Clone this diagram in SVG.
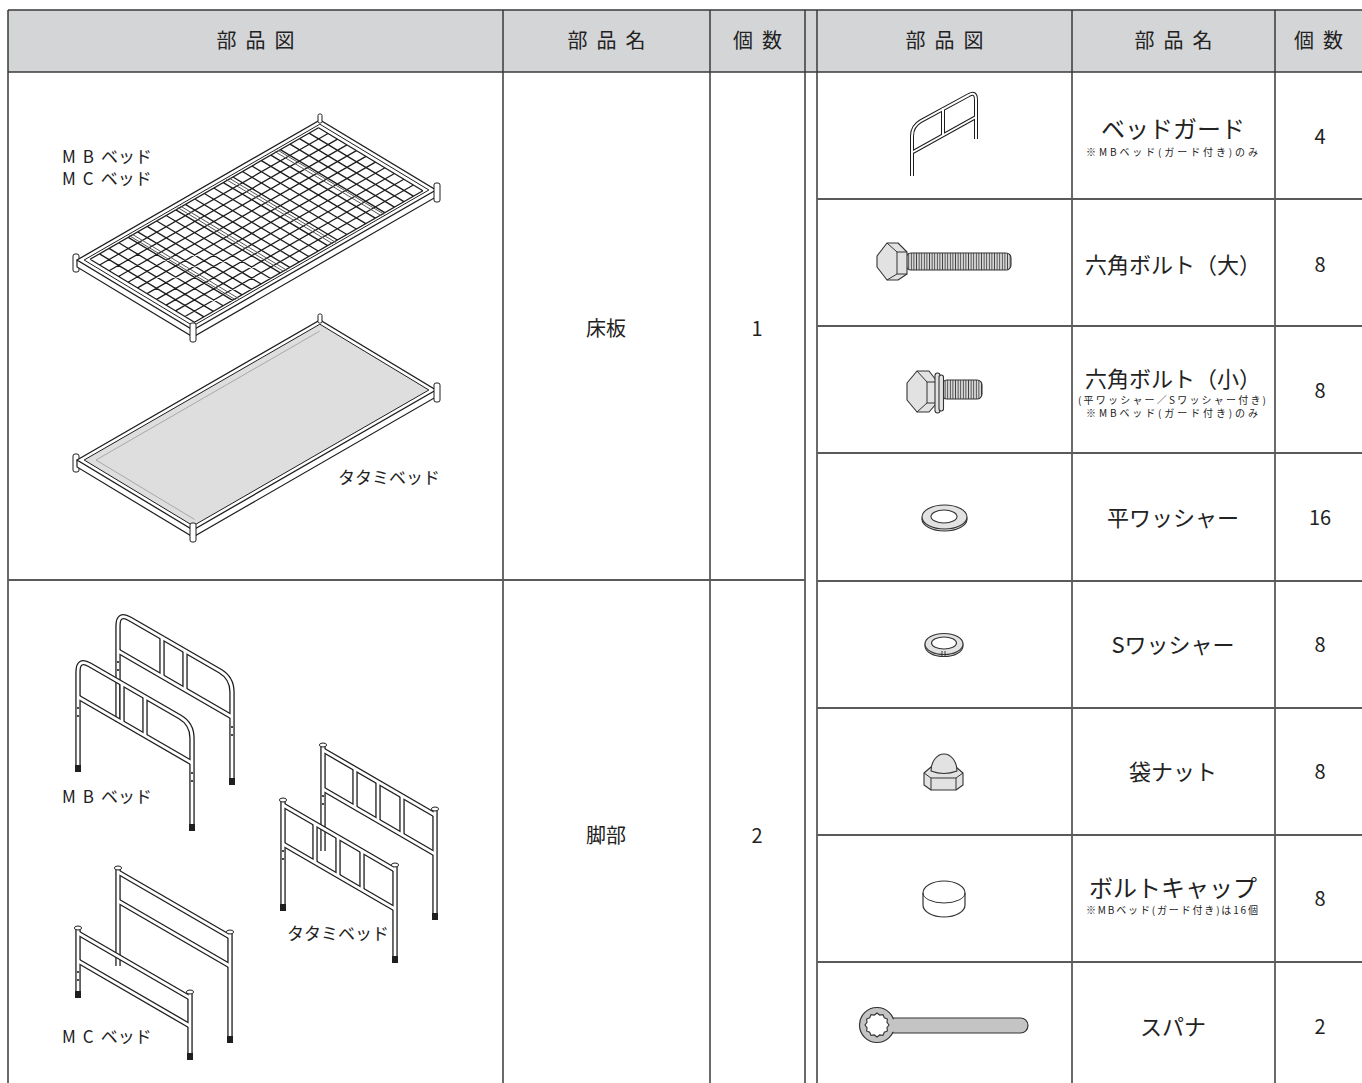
<svg xmlns="http://www.w3.org/2000/svg" xmlns:xlink="http://www.w3.org/1999/xlink" width="1362" height="1083" viewBox="0 0 1362 1083">
<style>
text{font-family:"Noto Sans CJK JP","Noto Sans",sans-serif;fill:#222}
.hd{font-size:20px;letter-spacing:9px;text-anchor:middle}
.nm{font-size:22px;text-anchor:middle}
.nm24{font-size:24px;text-anchor:middle}
.ct{font-size:20px;text-anchor:middle}
.nt{font-size:10px}
.lb{font-size:17px}
.ln{stroke:#3a3a3a;stroke-width:1.5;fill:none}
.rw{stroke:#5a5a5a;stroke-width:2;fill:none}
.o{fill:none;stroke:#1e1e1e;stroke-width:5.4;stroke-linecap:butt;stroke-linejoin:round}
.i{fill:none;stroke:#fff;stroke-width:2.8;stroke-linecap:butt;stroke-linejoin:round}
.go{fill:none;stroke:#1e1e1e;stroke-width:4;stroke-linejoin:round}
.gi{fill:none;stroke:#fff;stroke-width:2;stroke-linejoin:round}
.ft{fill:#1e1e1e}
.cap{fill:#fff;stroke:#1e1e1e;stroke-width:1}
.pt{fill:#e2e2e2;stroke:#333;stroke-width:1.1;stroke-linejoin:round}
.pl{fill:none;stroke:#333;stroke-width:1}
.ug{stroke:#1e1e1e;vector-effect:non-scaling-stroke}
.hole{fill:#1e1e1e}
</style>
<defs>
<pattern id="thread" patternUnits="userSpaceOnUse" width="2.6" height="30">
<rect width="2.6" height="30" fill="#d6d6d6"/>
<line x1="1.3" y1="0" x2="1.3" y2="30" stroke="#444" stroke-width="0.9"/>
</pattern>
<g id="mbFrame">
<path d="M118,722 V626 Q118,612 130,619 L220,671 Q232,678 232,692 V780"/>
<path d="M118,651 L232,717"/>
<path d="M162,638 V676"/>
<path d="M185,651 V689"/>
</g>
<g id="tbBack">
<path d="M323,851 V746"/>
<path d="M435,915 V810"/>
<path d="M323,750 L435,815"/>
<path d="M323,789 L435,854"/>
<path d="M355,769 V808"/>
<path d="M378,782 V821"/>
<path d="M402,796 V835"/>
</g>
<g id="tbFront">
<path d="M283,906 V801"/>
<path d="M395,958 V866"/>
<path d="M283,805 L395,870"/>
<path d="M283,844 L395,909"/>
<path d="M315,824 V863"/>
<path d="M338,837 V876"/>
<path d="M362,851 V890"/>
</g>
<g id="mcBack">
<path d="M118,966 V869"/>
<path d="M230,1038 V933"/>
<path d="M118,872 L230,937"/>
<path d="M118,901 L230,966"/>
</g>
<g id="mcFront">
<path d="M78,993 V929"/>
<path d="M190,1055 V993"/>
<path d="M78,933 L190,998"/>
<path d="M78,961 L190,1026"/>
</g>
<g id="guard">
<path d="M912,176 V136 Q912,126 921,121 L969,95 Q976,91 976,100 V139"/>
<path d="M913,152 L976,117"/>
<path d="M943,108 V136"/>
</g>
</defs>

<g id="table">
<rect x="8" y="10" width="1360" height="62" fill="#d4d5d7"/>
<path class="ln" d="M8,10 H1362 M8,10 V1083 M503,10 V1083 M710,10 V1083 M805,10 V1083 M817,10 V1083 M1072,10 V1083 M1275,10 V1083 M8,72 H1362"/>
<path class="rw" d="M8,580 H805 M817,199 H1362 M817,326 H1362 M817,453 H1362 M817,581 H1362 M817,708 H1362 M817,835 H1362 M817,962 H1362"/>
</g>

<g id="headers">
<text class="hd" x="260" y="48">部品図</text>
<text class="hd" x="611" y="48">部品名</text>
<text class="hd" x="762" y="48">個数</text>
<text class="hd" x="949" y="48">部品図</text>
<text class="hd" x="1178" y="48">部品名</text>
<text class="hd" x="1323" y="48">個数</text>
</g>

<g id="row-floor">
<g id="floor-mesh">
<rect x="73" y="254" width="6" height="18" rx="2" class="cap"/>
<path d="M77,260 V267 L193,337 L436,197 V190" fill="#fff" stroke="#1e1e1e" stroke-width="1.2"/>
<g transform="matrix(243 -140 116 70 77 260)">
<rect x="0" y="0" width="1" height="1" class="ug" style="fill:#fff" stroke-width="1.3"/>
<rect x="0.015" y="0.03" width="0.97" height="0.94" class="ug" style="fill:none" stroke-width="1"/>
<path class="ug" style="fill:none" stroke-width="1.3" d="M0.03,0.05 V0.95 M0.069,0.05 V0.95 M0.108,0.05 V0.95 M0.148,0.05 V0.95 M0.187,0.05 V0.95 M0.226,0.05 V0.95 M0.265,0.05 V0.95 M0.304,0.05 V0.95 M0.343,0.05 V0.95 M0.383,0.05 V0.95 M0.422,0.05 V0.95 M0.461,0.05 V0.95 M0.5,0.05 V0.95 M0.539,0.05 V0.95 M0.578,0.05 V0.95 M0.618,0.05 V0.95 M0.657,0.05 V0.95 M0.696,0.05 V0.95 M0.735,0.05 V0.95 M0.774,0.05 V0.95 M0.813,0.05 V0.95 M0.853,0.05 V0.95 M0.892,0.05 V0.95 M0.931,0.05 V0.95 M0.97,0.05 V0.95 M0.03,0.05 H0.97 M0.03,0.132 H0.97 M0.03,0.214 H0.97 M0.03,0.295 H0.97 M0.03,0.377 H0.97 M0.03,0.459 H0.97 M0.03,0.541 H0.97 M0.03,0.623 H0.97 M0.03,0.705 H0.97 M0.03,0.786 H0.97 M0.03,0.868 H0.97 M0.03,0.95 H0.97"/>
<path class="ug" style="fill:none;stroke:#555" stroke-width="1" d="M0.195,0.04 V0.96 M0.206,0.04 V0.96 M0.395,0.04 V0.96 M0.406,0.04 V0.96 M0.595,0.04 V0.96 M0.606,0.04 V0.96 M0.795,0.04 V0.96 M0.806,0.04 V0.96"/>
</g>
<rect x="190" y="323" width="6" height="19" rx="2" class="cap"/>
<rect x="434" y="183" width="6" height="19" rx="2" class="cap"/>
<rect x="318" y="114" width="4" height="9" rx="1.5" class="cap"/>
</g>
<g id="floor-tatami">
<rect x="73" y="454" width="6" height="18" rx="2" class="cap"/>
<path d="M77,460 V467 L193,537 L436,397 V390" fill="#fff" stroke="#1e1e1e" stroke-width="1.2"/>
<g transform="matrix(243 -140 116 70 77 460)">
<rect x="0" y="0" width="1" height="1" class="ug" style="fill:#fff" stroke-width="1.3"/>
<rect x="0.015" y="0.03" width="0.97" height="0.94" class="ug" style="fill:#dedede" stroke-width="1"/>
<path class="ug" style="fill:none;stroke:#9a9a9a" stroke-width="0.8" d="M0.04,0.08 H0.96 M0.04,0.08 V0.93"/>
</g>
<rect x="190" y="523" width="6" height="19" rx="2" class="cap"/>
<rect x="434" y="383" width="6" height="19" rx="2" class="cap"/>
<rect x="318" y="314" width="4" height="9" rx="1.5" class="cap"/>
</g>
<text class="lb" x="62" y="163"><tspan letter-spacing="7">MB</tspan>ベッド</text>
<text class="lb" x="62" y="185"><tspan letter-spacing="7">MC</tspan>ベッド</text>
<text class="lb" x="338" y="484">タタミベッド</text>
<text class="nm" x="606" y="336" style="font-size:20px">床板</text>
<text class="ct" x="757" y="336">1</text>
</g>

<g id="row-legs">
<g id="legs-mb">
<use xlink:href="#mbFrame" class="o"/>
<use xlink:href="#mbFrame" class="i"/>
<rect x="229" y="778" width="6" height="7" class="ft"/>
<circle cx="118" cy="662" r="1.1" class="hole"/><circle cx="118" cy="670" r="1.1" class="hole"/>
<circle cx="232" cy="727" r="1.1" class="hole"/><circle cx="232" cy="735" r="1.1" class="hole"/>
<g transform="translate(-40,46)">
<use xlink:href="#mbFrame" class="o"/>
<use xlink:href="#mbFrame" class="i"/>
<rect x="115" y="719" width="6" height="7" class="ft"/>
<rect x="229" y="778" width="6" height="7" class="ft"/>
<circle cx="118" cy="662" r="1.1" class="hole"/><circle cx="118" cy="670" r="1.1" class="hole"/>
<circle cx="232" cy="727" r="1.1" class="hole"/><circle cx="232" cy="735" r="1.1" class="hole"/>
</g>
</g>
<g id="legs-tatami">
<use xlink:href="#tbBack" class="o"/>
<use xlink:href="#tbBack" class="i"/>
<ellipse cx="323" cy="745" rx="3.6" ry="2" class="cap"/>
<ellipse cx="435" cy="809" rx="3.6" ry="2" class="cap"/>
<rect x="432" y="913" width="6" height="7" class="ft"/>
<circle cx="323" cy="796" r="1.1" class="hole"/><circle cx="323" cy="804" r="1.1" class="hole"/>
<use xlink:href="#tbFront" class="o"/>
<use xlink:href="#tbFront" class="i"/>
<ellipse cx="283" cy="800" rx="3.6" ry="2" class="cap"/>
<ellipse cx="395" cy="865" rx="3.6" ry="2" class="cap"/>
<rect x="280" y="904" width="6" height="7" class="ft"/>
<rect x="392" y="956" width="6" height="7" class="ft"/>
<circle cx="283" cy="851" r="1.1" class="hole"/><circle cx="283" cy="859" r="1.1" class="hole"/>
</g>
<g id="legs-mc">
<use xlink:href="#mcBack" class="o"/>
<use xlink:href="#mcBack" class="i"/>
<ellipse cx="118" cy="868" rx="3.6" ry="2" class="cap"/>
<ellipse cx="230" cy="932" rx="3.6" ry="2" class="cap"/>
<rect x="227" y="1036" width="6" height="7" class="ft"/>
<use xlink:href="#mcFront" class="o"/>
<use xlink:href="#mcFront" class="i"/>
<ellipse cx="78" cy="928" rx="3.6" ry="2" class="cap"/>
<ellipse cx="190" cy="992" rx="3.6" ry="2" class="cap"/>
<rect x="75" y="991" width="6" height="7" class="ft"/>
<rect x="187" y="1053" width="6" height="7" class="ft"/>
<circle cx="78" cy="972" r="1.1" class="hole"/><circle cx="78" cy="980" r="1.1" class="hole"/>
</g>
<text class="lb" x="62" y="803"><tspan letter-spacing="7">MB</tspan>ベッド</text>
<text class="lb" x="287" y="940">タタミベッド</text>
<text class="lb" x="62" y="1043"><tspan letter-spacing="7">MC</tspan>ベッド</text>
<text class="nm" x="606" y="843" style="font-size:20px">脚部</text>
<text class="ct" x="757" y="843">2</text>
</g>

<g id="item-guard">
<use xlink:href="#guard" class="go"/>
<use xlink:href="#guard" class="gi"/>
<text class="nm24" x="1173" y="138">ベッドガード</text>
<text class="nt" x="1086" y="156" textLength="172" lengthAdjust="spacing">※MBベッド(ガード付き)のみ</text>
<text class="ct" x="1320" y="144">4</text>
</g>

<g id="item-bolt-large">
<rect x="906" y="253" width="105" height="17" rx="5" fill="url(#thread)" stroke="#333" stroke-width="1.1"/>
<polygon class="pt" points="877,256 887,243 898,243 907,252 907,274 898,280 887,280 877,267"/>
<path class="pl" d="M887,243 L897,252 L907,252 M897,252 V274 L907,274 M897,274 L887,280"/>
<text class="nm" x="1173" y="273">六角ボルト（大）</text>
<text class="ct" x="1320" y="272">8</text>
</g>

<g id="item-bolt-small">
<rect x="942" y="380" width="40" height="19" rx="5" fill="url(#thread)" stroke="#333" stroke-width="1.1"/>
<polygon class="pt" points="907,383 917,371 929,371 936,380 936,404 929,412 917,412 907,400"/>
<path class="pl" d="M917,371 L927,382 L936,382 M927,382 V403 L936,403 M927,403 L917,412"/>
<rect x="935" y="373" width="5" height="40" rx="2.5" class="pt"/>
<rect x="939" y="375" width="4.5" height="36" rx="2.2" class="pt"/>
<text class="nm" x="1173" y="387">六角ボルト（小）</text>
<text class="nt" x="1078" y="404" textLength="188" lengthAdjust="spacing">(平ワッシャー／Sワッシャー付き)</text>
<text class="nt" x="1086" y="417" textLength="172" lengthAdjust="spacing">※MBベッド(ガード付き)のみ</text>
<text class="ct" x="1320" y="398">8</text>
</g>

<g id="item-washer">
<ellipse cx="944.5" cy="519" rx="22.5" ry="12" class="pt"/>
<ellipse cx="944.5" cy="517" rx="22.5" ry="12" class="pt"/>
<ellipse cx="944" cy="516.5" rx="13" ry="6.5" fill="#fff" stroke="#333" stroke-width="1.1"/>
<text class="nm" x="1173" y="526">平ワッシャー</text>
<text class="ct" x="1320" y="525">16</text>
</g>

<g id="item-swasher">
<ellipse cx="944" cy="646" rx="19" ry="10.5" class="pt"/>
<ellipse cx="944" cy="644" rx="19" ry="10.5" class="pt"/>
<ellipse cx="944" cy="643" rx="12.5" ry="6" fill="#fff" stroke="#333" stroke-width="1.1"/>
<path class="pl" d="M942,651 V656 M945,651 V656"/>
<text class="nm" x="1173" y="653">Sワッシャー</text>
<text class="ct" x="1320" y="652">8</text>
</g>

<g id="item-capnut">
<polygon class="pt" points="924,773 931,767 956,767 963,773 963,785 956,790 931,790 924,785"/>
<path class="pl" d="M924,773 L931,778 L956,778 L963,773 M931,778 V790 M956,778 V790"/>
<path class="pt" d="M931,771 A13,17 0 0 1 957,771 Q944,776 931,771 Z"/>
<text class="nm" x="1173" y="780">袋ナット</text>
<text class="ct" x="1320" y="779">8</text>
</g>

<g id="item-boltcap">
<path d="M923,893 A21,12 0 0 1 965,893 V905 A21,12 0 0 1 923,905 Z" fill="#fff" stroke="#333" stroke-width="1.2"/>
<path class="pl" d="M923,893 A21,10 0 0 0 965,893" stroke-width="1.2"/>
<text class="nm24" x="1173" y="897">ボルトキャップ</text>
<text class="nt" x="1086" y="914" textLength="172" lengthAdjust="spacing">※MBベッド(ガード付き)は16個</text>
<text class="ct" x="1320" y="906">8</text>
</g>

<g id="item-spanner">
<rect x="885" y="1018" width="143" height="15" rx="7.5" fill="#c4c4c4" stroke="#333" stroke-width="1.2"/>
<circle cx="877" cy="1025" r="17.5" fill="#c4c4c4" stroke="#333" stroke-width="1.2"/>
<rect x="886" y="1019.2" width="10" height="12.6" fill="#c4c4c4"/>
<polygon fill="#fff" stroke="#333" stroke-width="1.1" points="889,1025 886.95,1027.67 887.39,1031 884.28,1032.28 883,1035.39 879.67,1034.95 877,1037 874.33,1034.95 871,1035.39 869.72,1032.28 866.61,1031 867.05,1027.67 865,1025 867.05,1022.33 866.61,1019 869.72,1017.72 871,1014.61 874.33,1015.05 877,1013 879.67,1015.05 883,1014.61 884.28,1017.72 887.39,1019 886.95,1022.33"/>
<text class="nm" x="1173" y="1035">スパナ</text>
<text class="ct" x="1320" y="1034">2</text>
</g>
</svg>
